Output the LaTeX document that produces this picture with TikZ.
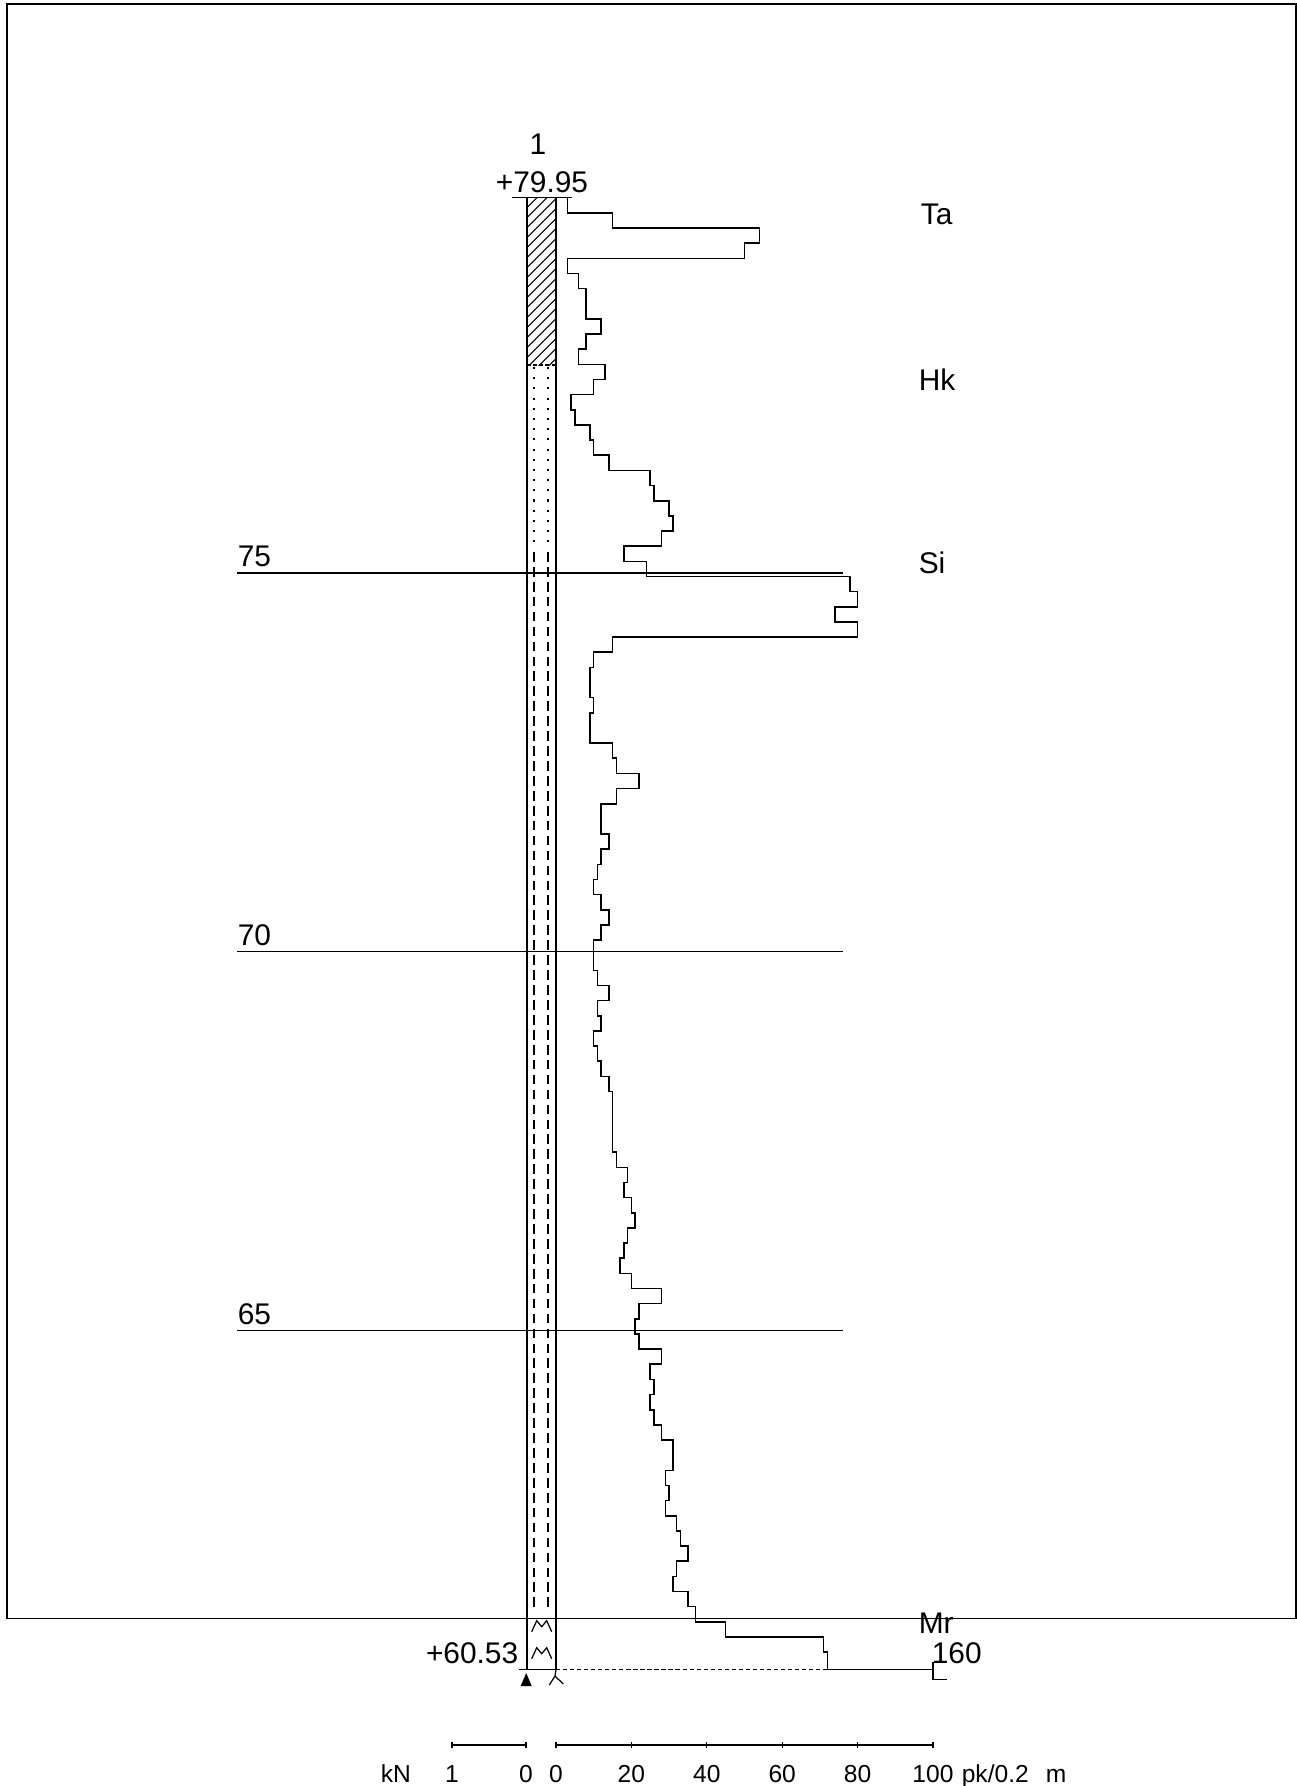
\documentclass[tikz,border=0pt]{standalone}
\usepackage{fontspec}
\setmainfont{Liberation Sans}

\begin{document}
\begin{tikzpicture}[x=0.02cm,y=-0.02cm,line width=0.9pt,line join=miter]
\tikzset{lbl/.style=
	{font=\fontsize{17}{17}\selectfont,inner sep=0pt},
	sml/.style=
	{font=\fontsize{14}{14}\selectfont,inner sep=0pt},
	dashcol/.style={dash pattern=on 5.5pt off 3pt},
	dotcol/.style={dash pattern=on 1.2pt off 4.6pt},
	baseline dash/.style={dash pattern=on 2.4pt off 1.6pt}}
\def\ztop{197.7}
\def\dz{15.15}
\def\xo{556}
\def\pkw{3.77}
\useasboundingbox (0,0) rectangle (1297,1786);
% frame
\draw (7,4) rectangle (1296,1618.3);
% level lines
\foreach \lv/\yy in {75/572.7,70/951.5,65/1330.3}{
	\draw (237,\yy) -- (843,\yy);
	\node[lbl,anchor=base west] (lv\lv) at (237,{\yy-5.8}) {\lv};
}
% column
\coordinate (ctl) at (527,\ztop);
\coordinate (ctr) at (556,\ztop);
\coordinate (cbl) at (527,1669.3);
\coordinate (cbr) at (556,1669.3);
\begin{scope}
	\clip (527,\ztop) rectangle (556,365);
	\foreach \k in {0,...,20}
		\draw[line width=0.6pt] (527,{\ztop+\k*10}) -- ++(40,-40);
\end{scope}
\draw (ctl) -- (cbl);
\draw (ctr) -- (cbr);
\draw (512,\ztop) -- (572,\ztop);
\draw[line width=0.7pt,dash pattern=on 2pt off 1.5pt] (527,365) -- (556,365);
\foreach \xx in {534,548}{
	\draw[dotcol,line width=1.1pt] (\xx,367) -- (\xx,548);
	\draw[dashcol] (\xx,552) -- (\xx,1608);
}
\foreach \yy in {1620.7,1647.7}
	\draw[line width=0.7pt] (531.7,{\yy+11}) -- (536.7,\yy) -- (541.7,{\yy+6})
		-- (546.7,\yy) -- (551.7,{\yy+11});
\draw (518.6,1669.3) -- (cbr);
\draw[baseline dash,line width=0.7pt] (cbr) -- (933,1669.3);
\fill (520.7,1686) -- (526.2,1673) -- (531.7,1686) -- cycle;
\draw[line width=0.7pt] (cbr) -- (555,1676) -- (549.3,1685);
\draw[line width=0.7pt] (555,1676) -- (563.3,1684);
% sounding profile, pk per 0.2 m
\draw ({\xo+\pkw*3},\ztop)
	\foreach \v [count=\i from 0] in {3,15,54,50,3,6,8,8,12,8,
		6,13,10,4,5,9,10,14,25,26,
		30,31,28,18,24,78,80,74,80,15,
		10,9,9,10,9,9,15,16,22,16,
		12,12,14,12,11,10,12,14,12,10,
		10,11,14,11,12,10,11,12,14,15,
		15,15,15,16,19,18,20,21,19,18,
		17,20,28,22,21,22,28,25,26,25,
		26,28,31,31,29,30,29,32,33,35,
		32,31,35,37,45,71,72}
	{ -- ({\xo+\pkw*\v},{\ztop+\i*\dz}) -- ({\xo+\pkw*\v},{\ztop+(\i+1)*\dz}) }
	-- ({\xo+\pkw*72},1669.3) -- (933,1669.3);
\draw (933,1661.7) -- (933,1679.3) -- (946.5,1679.3);
% labels
\node[lbl] (nr) at (538,144) {1};
\node[lbl,anchor=base] (ztop) at (542,192) {+79.95};
\node[lbl,anchor=base west] (ta) at (920,224) {Ta};
\node[lbl,anchor=base west] (hk) at (918,390) {Hk};
\node[lbl,anchor=base west] (si) at (918,573) {Si};
\node[lbl,anchor=base west] (mr) at (918,1633) {Mr};
\node[lbl,anchor=base west] (v160) at (931,1663) {160};
\node[lbl,anchor=base east] (zbot) at (519,1663) {+60.53};
% scales
\draw (452,1745) -- (526,1745);
\foreach \xx in {452,526}
	\draw[line width=0.7pt] (\xx,1742) -- (\xx,1748);
\draw (556,1745) -- (933,1745);
\foreach \p in {0,20,...,100}
	\draw[line width=0.7pt] ({\xo+\pkw*\p},1742) -- ({\xo+\pkw*\p},1748);
\node[sml,anchor=base west] (kn) at (380,1782) {kN};
\node[sml,anchor=base] (k1) at (452,1782) {1};
\node[sml,anchor=base] (k0) at (526,1782) {0};
\foreach \p in {0,20,...,100}
	\node[sml,anchor=base] (p\p) at ({\xo+\pkw*\p},1782) {\p};
\node[sml,anchor=base west] (unit) at (961,1782) {pk/0.2\hspace{0.7em}m};
\end{tikzpicture}
\end{document}
